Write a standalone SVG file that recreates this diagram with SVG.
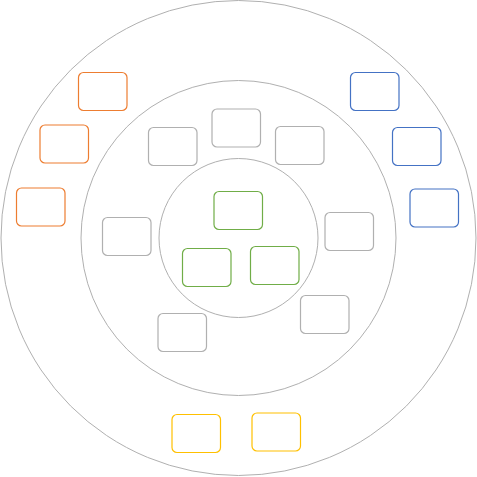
<svg xmlns="http://www.w3.org/2000/svg" width="477" height="477" viewBox="0 0 477 477">
<style>
.ring{fill:none;stroke:#b0b0b0;stroke-width:1}
.b{fill:#fff;stroke-width:1.2}
.g{stroke:#b0b0b0}
.o{stroke:#ed7d31}
.bl{stroke:#4472c4}
.gr{stroke:#70ad47}
.y{stroke:#ffc000}
</style>
<rect width="477" height="477" fill="#fff"/>
<g id="rings">
<circle class="ring" cx="238.5" cy="238" r="237.5"/>
<circle class="ring" cx="238.5" cy="238" r="157.5"/>
<circle class="ring" cx="238.5" cy="238" r="79.5"/>
</g>
<g id="connectors"></g>
<g id="orange1"><rect class="b o" x="78.5" y="72.5" width="48.5" height="38" rx="5"/></g>
<g id="orange2"><rect class="b o" x="40" y="125" width="48.5" height="38" rx="5"/></g>
<g id="orange3"><rect class="b o" x="16.5" y="188" width="48.5" height="38" rx="5"/></g>
<g id="blue1"><rect class="b bl" x="350.5" y="72.5" width="48.5" height="38" rx="5"/></g>
<g id="blue2"><rect class="b bl" x="392.5" y="127.5" width="48.5" height="38" rx="5"/></g>
<g id="blue3"><rect class="b bl" x="410" y="189" width="48.5" height="38" rx="5"/></g>
<g id="gray1"><rect class="b g" x="148.5" y="127.5" width="48.5" height="38" rx="5"/></g>
<g id="gray2"><rect class="b g" x="212" y="109" width="48.5" height="38" rx="5"/></g>
<g id="gray3"><rect class="b g" x="275.5" y="126.5" width="48.5" height="38" rx="5"/></g>
<g id="gray4"><rect class="b g" x="102.5" y="217.5" width="48.5" height="38" rx="5"/></g>
<g id="gray5"><rect class="b g" x="325" y="212.5" width="48.5" height="38" rx="5"/></g>
<g id="gray6"><rect class="b g" x="300.5" y="295.5" width="48.5" height="38" rx="5"/></g>
<g id="gray7"><rect class="b g" x="158" y="313.5" width="48.5" height="38" rx="5"/></g>
<g id="green1"><rect class="b gr" x="214" y="191.5" width="48.5" height="38" rx="5"/></g>
<g id="green2"><rect class="b gr" x="182.5" y="248.5" width="48.5" height="38" rx="5"/></g>
<g id="green3"><rect class="b gr" x="250.5" y="246.5" width="48.5" height="38" rx="5"/></g>
<g id="yellow1"><rect class="b y" x="172" y="414.5" width="48.5" height="38" rx="5"/></g>
<g id="yellow2"><rect class="b y" x="252" y="413" width="48.5" height="38" rx="5"/></g>
</svg>
